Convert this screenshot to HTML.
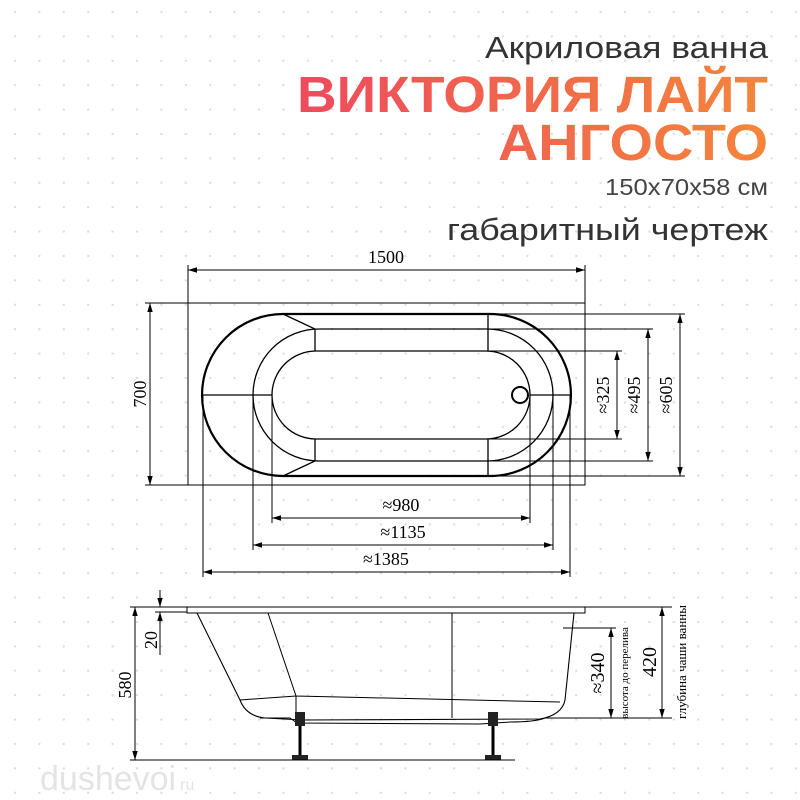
<!DOCTYPE html>
<html><head><meta charset="utf-8"><style>
html,body{margin:0;padding:0;background:#fff;width:800px;height:800px;overflow:hidden}
svg{display:block}
</style></head><body>
<svg width="800" height="800" viewBox="0 0 800 800" xmlns="http://www.w3.org/2000/svg">
<defs>
<pattern id="dots" x="3" y="0" width="24.4" height="24.4" patternUnits="userSpaceOnUse">
<circle cx="12" cy="12" r="1.2" fill="#dcdcdc"/>
</pattern>
<linearGradient id="g" x1="297" y1="0" x2="768" y2="0" gradientUnits="userSpaceOnUse">
<stop offset="0" stop-color="#ee4a5e"/><stop offset="1" stop-color="#f4863a"/>
</linearGradient>
<marker id="a" viewBox="0 0 10 10" refX="10" refY="5" markerWidth="9" markerHeight="9" orient="auto-start-reverse" markerUnits="userSpaceOnUse">
<path d="M0,2 L10,5 L0,8 Z" fill="#000"/></marker>
</defs>
<rect width="800" height="800" fill="url(#dots)"/>
<g font-family="Liberation Sans, DejaVu Sans, sans-serif">
<text x="768" y="58" text-anchor="end" font-size="31" fill="#333" textLength="283" lengthAdjust="spacingAndGlyphs">Акриловая ванна</text>
<text x="768" y="112" text-anchor="end" font-size="51" font-weight="bold" fill="url(#g)" textLength="471" lengthAdjust="spacingAndGlyphs">ВИКТОРИЯ ЛАЙТ</text>
<text x="768" y="160" text-anchor="end" font-size="51" font-weight="bold" fill="url(#g)" textLength="270" lengthAdjust="spacingAndGlyphs">АНГОСТО</text>
<text x="768" y="195" text-anchor="end" font-size="23" fill="#444" textLength="163" lengthAdjust="spacingAndGlyphs">150x70x58 см</text>
<text x="768" y="240" text-anchor="end" font-size="31" fill="#333" textLength="321" lengthAdjust="spacingAndGlyphs">габаритный чертеж</text>
<text x="40" y="790" font-size="34" fill="#e4e4e4">dushevoi</text>
<text x="180" y="790" font-size="16" fill="#e4e4e4">ru</text>
</g>
<g stroke="#000" fill="none" stroke-width="1">
<rect x="188" y="303" width="397" height="182"/>
<path d="M283,314 H490 A81,81 0 0 1 490,476 H283 A81,81 0 0 1 283,314 Z" stroke-width="2.2"/>
<path d="M319,329 H487 A66,66 0 0 1 487,461 H319 A66,66 0 0 1 319,329 Z" stroke-width="1.3"/>
<path d="M316,351 H486 A44,44 0 0 1 486,439 H316 A44,44 0 0 1 316,351 Z" stroke-width="1.3"/>
<circle cx="520" cy="395" r="8" stroke-width="2"/>
<path d="M283,314 L315,329 V351 M283,476 L315,461 V439 M488,314 V351 M488,476 V439 M203,395 H272 M530,395 H570" stroke-width="1.3"/>
<path d="M188,303 V265 M585,303 V265 M188,303 H145 M188,485 H145"/>
<path d="M486,351 H622 M486,439 H622 M487,329 H653 M487,461 H653 M490,314 H685 M490,476 H685"/>
<path d="M272,395 V523 M530,395 V523 M253,395 V550 M553,395 V550 M203,395 V577 M570,395 V577"/>
<line x1="188" y1="270" x2="585" y2="270" marker-start="url(#a)" marker-end="url(#a)"/>
<line x1="150" y1="303" x2="150" y2="485" marker-start="url(#a)" marker-end="url(#a)"/>
<line x1="617" y1="351" x2="617" y2="439" marker-start="url(#a)" marker-end="url(#a)"/>
<line x1="648" y1="329" x2="648" y2="461" marker-start="url(#a)" marker-end="url(#a)"/>
<line x1="680" y1="314" x2="680" y2="476" marker-start="url(#a)" marker-end="url(#a)"/>
<line x1="272" y1="518" x2="530" y2="518" marker-start="url(#a)" marker-end="url(#a)"/>
<line x1="253" y1="545" x2="553" y2="545" marker-start="url(#a)" marker-end="url(#a)"/>
<line x1="203" y1="572" x2="570" y2="572" marker-start="url(#a)" marker-end="url(#a)"/>
<rect x="187" y="607" width="398" height="6"/>
<path d="M197,613 L240,700 Q246,716 265,718 L303,720 M574,613 L565,700 Q562,715 540,719 L300,720" stroke-width="1.1"/>
<path d="M240,700 L296,696 L560,702 M268,613 L296,696 V720 M452,613 V718"/>
<path d="M260,718 H290 L297,723 L480,724 L510,722 Q535,722 545,718"/>
<g stroke-width="3"><line x1="300" y1="724" x2="300" y2="757"/><line x1="493" y1="724" x2="493" y2="757"/></g>
<g fill="#222" stroke="none"><rect x="295" y="712" width="10" height="14"/><rect x="488" y="712" width="10" height="14"/><rect x="292" y="755" width="16" height="5"/><rect x="485" y="755" width="16" height="5"/></g>
<path d="M130,760 H515 M130,607 H187 M155,612 H187 M585,607 H672 M563,628 H616 M545,718 H672"/>
<line x1="135" y1="607" x2="135" y2="760" marker-start="url(#a)" marker-end="url(#a)"/>
<path d="M160,590 V607 M160,612 V655"/>
<line x1="160" y1="592" x2="160" y2="607" marker-end="url(#a)"/>
<line x1="160" y1="628" x2="160" y2="612" marker-end="url(#a)"/>
<line x1="611" y1="628" x2="611" y2="718" marker-start="url(#a)" marker-end="url(#a)"/>
<line x1="662" y1="607" x2="662" y2="718" marker-start="url(#a)" marker-end="url(#a)"/>
</g>
<g font-family="Liberation Serif, serif" fill="#000" font-size="18">
<text x="386" y="263" text-anchor="middle">1500</text>
<text transform="translate(146,394) rotate(-90)" text-anchor="middle">700</text>
<text transform="translate(609,395) rotate(-90)" text-anchor="middle">≈325</text>
<text transform="translate(640,395) rotate(-90)" text-anchor="middle">≈495</text>
<text transform="translate(672,395) rotate(-90)" text-anchor="middle">≈605</text>
<text x="401" y="511" text-anchor="middle">≈980</text>
<text x="403" y="538" text-anchor="middle">≈1135</text>
<text x="386" y="565" text-anchor="middle">≈1385</text>
<text transform="translate(131,685) rotate(-90)" text-anchor="middle">580</text>
<text transform="translate(157,640) rotate(-90)" text-anchor="middle">20</text>
<text transform="translate(604,673) rotate(-90)" text-anchor="middle" font-size="20">≈340</text>
<text transform="translate(656,662) rotate(-90)" text-anchor="middle" font-size="20">420</text>
<text transform="translate(628,673) rotate(-90)" text-anchor="middle" font-size="11">высота до перелива</text>
<text transform="translate(686,662) rotate(-90)" text-anchor="middle" font-size="13">глубина чаши ванны</text>
</g>
</svg>
</body></html>
